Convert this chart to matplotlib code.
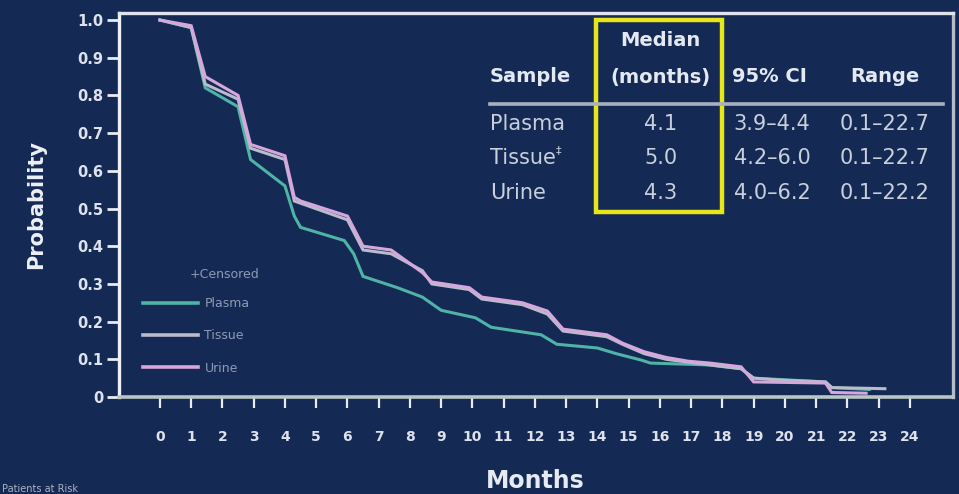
import matplotlib
matplotlib.use("Agg")
import matplotlib.pyplot as plt
from matplotlib.lines import Line2D
from matplotlib.patches import Rectangle

# Kaplan-Meier style curves (months, survival probability)
plasma_months = [0, 1.0, 1.45, 2.5, 2.9, 4.0, 4.3, 4.5, 5.9, 6.2, 6.5, 7.6, 8.4, 9.0, 10.1,
                 10.6, 12.2, 12.7, 14.0, 14.6, 15.4, 15.7, 17.6, 18.6, 19.0, 21.3, 21.5, 22.7]
plasma_prob = [1.0, 0.98, 0.82, 0.77, 0.63, 0.56, 0.48, 0.45, 0.415, 0.38, 0.32, 0.29, 0.265, 0.23, 0.21,
               0.185, 0.165, 0.14, 0.13, 0.115, 0.098, 0.09, 0.085, 0.075, 0.05, 0.04, 0.025, 0.02]

tissue_months = [0, 1.0, 1.45, 2.5, 2.9, 4.0, 4.3, 6.0, 6.5, 7.4, 8.4, 8.7, 9.9, 10.3, 11.6,
                 12.4, 12.9, 14.3, 14.8, 15.5, 16.2, 17.6, 18.6, 19.0, 19.8, 21.3, 21.5, 23.2]
tissue_prob = [1.0, 0.98, 0.83, 0.79, 0.66, 0.63, 0.52, 0.47, 0.39, 0.38, 0.335, 0.30, 0.285, 0.26, 0.245,
               0.22, 0.175, 0.16, 0.14, 0.115, 0.10, 0.085, 0.075, 0.05, 0.045, 0.04, 0.025, 0.022]

urine_months = [0, 1.0, 1.45, 2.5, 2.9, 4.0, 4.3, 4.5, 6.0, 6.5, 7.4, 8.4, 8.7, 9.9, 10.3,
                11.6, 12.4, 12.9, 14.3, 14.8, 15.5, 16.2, 16.9, 17.6, 18.6, 19.0, 21.3, 21.5, 22.6]
urine_prob = [1.0, 0.985, 0.85, 0.80, 0.67, 0.64, 0.53, 0.52, 0.48, 0.40, 0.39, 0.33, 0.305, 0.29, 0.265,
              0.25, 0.228, 0.18, 0.165, 0.143, 0.12, 0.105, 0.095, 0.09, 0.08, 0.04, 0.037, 0.012, 0.01]

series_names = ["Plasma", "Tissue", "Urine"]
series_colors = ["#4fb3a6", "#b8bccb", "#d6a6dc"]

x_ticks = list(range(0, 25))
y_ticks = [0, 0.1, 0.2, 0.3, 0.4, 0.5, 0.6, 0.7, 0.8, 0.9, 1.0]
y_tick_labels = ["0", "0.1", "0.2", "0.3", "0.4", "0.5", "0.6", "0.7", "0.8", "0.9", "1.0"]

# Summary table
table_header = ["Sample", "(months)", "95% CI", "Range"]
table_samples = ["Plasma", "Tissue", "Urine"]
table_median = ["4.1", "5.0", "4.3"]
table_ci = ["3.9\u20134.4", "4.2\u20136.0", "4.0\u20136.2"]
table_range = ["0.1\u201322.7", "0.1\u201322.7", "0.1\u201322.2"]

BG = "#142a55"
W, H = 959, 494

plt.rcParams["font.family"] = ["DejaVu Sans"]
fig = plt.figure(figsize=(W / 100, H / 100), dpi=100, facecolor=BG)


def fx(px):
    return px / W


def fy(py):
    return 1 - py / H


ax = fig.add_axes([fx(119), fy(397), fx(953) - fx(119), fy(12.5) - fy(397)])
ax.set_facecolor(BG)
ax.set_xlim(-1.31, 25.38)
ax.set_ylim(0, 1.02)

for xs, ys, c in zip([plasma_months, tissue_months, urine_months],
                     [plasma_prob, tissue_prob, urine_prob], series_colors):
    ax.plot(xs, ys, color=c, lw=2.2, solid_joinstyle="miter", zorder=3)

# frame
ax.spines["left"].set_color("#eef0f6")
ax.spines["left"].set_linewidth(2.4)
ax.spines["top"].set_color("#dfe3ec")
ax.spines["top"].set_linewidth(2.4)
ax.spines["right"].set_color("#b4bccb")
ax.spines["right"].set_linewidth(2.4)
ax.spines["bottom"].set_color("#b9c6c4")
ax.spines["bottom"].set_linewidth(2.6)

ax.set_xticks(x_ticks)
ax.set_xticklabels([str(t) for t in x_ticks])
ax.set_yticks(y_ticks)
ax.set_yticklabels(y_tick_labels)
ax.tick_params(axis="x", direction="out", length=8, width=1.6, color="#e8ecf4",
               pad=16, labelsize=10, labelcolor="#dde2ec")
ax.tick_params(axis="y", direction="out", length=8.5, width=2.0, color="#e8ecf4",
               pad=3, labelsize=10.5, labelcolor="#dde2ec")
for lab in ax.get_xticklabels() + ax.get_yticklabels():
    lab.set_fontweight("bold")

ax.set_ylabel("Probability", fontsize=15, fontweight="bold", color="#eef0f6", labelpad=22)
fig.text(fx(535), fy(481), "Months", fontsize=17, fontweight="bold", color="#e6eaf2",
         ha="center", va="center")
fig.text(fx(2), fy(489), "Patients at Risk", fontsize=7, color="#aab2c4", ha="left", va="center")

# legend
handles = [Line2D([], [], color=c, lw=2.6) for c in series_colors]
leg = ax.legend(handles, series_names, loc="upper left", bbox_to_anchor=(0.023, 0.273),
                frameon=False, fontsize=9, handlelength=4.4, handletextpad=0.5,
                labelspacing=1.55, borderaxespad=0)
for t in leg.get_texts():
    t.set_color("#8f9ab2")
fig.text(fx(190), fy(275), "+Censored", fontsize=9, color="#8f9ab2", ha="left", va="center")

# summary table
hdr_color = "#e4e8f0"
row_color = "#c9cfdb"
fig.text(fx(660), fy(41), "Median", fontsize=14, fontweight="bold", color=hdr_color,
         ha="center", va="center")
fig.text(fx(490), fy(77), table_header[0], fontsize=14, fontweight="bold", color=hdr_color,
         ha="left", va="center")
fig.text(fx(660), fy(77), table_header[1], fontsize=14, fontweight="bold", color=hdr_color,
         ha="center", va="center")
fig.text(fx(732), fy(77), table_header[2], fontsize=14, fontweight="bold", color=hdr_color,
         ha="left", va="center")
fig.text(fx(885), fy(77), table_header[3], fontsize=14, fontweight="bold", color=hdr_color,
         ha="center", va="center")
fig.add_artist(Line2D([fx(490), fx(943)], [fy(104), fy(104)], color="#a9b1c1", lw=2.6))

row_y = [124, 158, 193]
for i, y in enumerate(row_y):
    fig.text(fx(490), fy(y), table_samples[i], fontsize=15, color=row_color, ha="left", va="center")
    fig.text(fx(661), fy(y), table_median[i], fontsize=15, color=row_color, ha="center", va="center")
    fig.text(fx(772), fy(y), table_ci[i], fontsize=15, color=row_color, ha="center", va="center")
    fig.text(fx(885), fy(y), table_range[i], fontsize=15, color=row_color, ha="center", va="center")
fig.text(fx(556), fy(150), "\u2021", fontsize=8, color=row_color, ha="left", va="center")

fig.add_artist(Rectangle((fx(596), fy(212)), fx(722) - fx(596), fy(20) - fy(212),
                         fill=False, edgecolor="#e6e619", lw=3.2))

fig.savefig("out.png", dpi=100, facecolor=BG)
